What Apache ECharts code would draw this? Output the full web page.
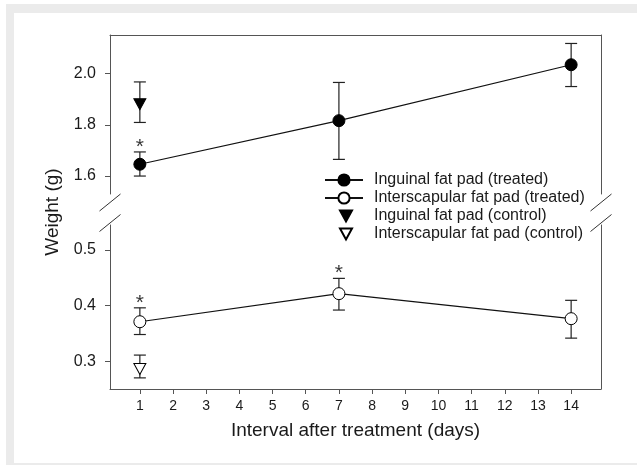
<!DOCTYPE html>
<html>
<head>
<meta charset="utf-8">
<script src="https://cdn.jsdelivr.net/npm/echarts@6/dist/echarts.min.js"></script>
<style>html,body{margin:0;padding:0;background:#fff}#c{width:637px;height:465px}</style>
</head>
<body>
<div id="c"></div>
<script>
// ---- data ----
const days = [1, 7, 14];
const inguinalTreated     = [1.646, 1.816, 2.034];
const inguinalTreatedLow  = [1.600, 1.665, 1.949];
const inguinalTreatedHigh = [1.694, 1.965, 2.117];
const interscapTreated     = [0.371, 0.4215, 0.3765];
const interscapTreatedLow  = [0.348, 0.392, 0.3415];
const interscapTreatedHigh = [0.396, 0.449, 0.4095];
const controlDays = [1];
const inguinalControl     = [1.880];
const inguinalControlLow  = [1.809];
const inguinalControlHigh = [1.967];
const interscapControl     = [0.286];
const interscapControlLow  = [0.270];
const interscapControlHigh = [0.311];
const xTicks = [1, 2, 3, 4, 5, 6, 7, 8, 9, 10, 11, 12, 13, 14];
const yTicksTop = [1.6, 1.8, 2.0];
const yTicksBottom = [0.3, 0.4, 0.5];
const sigInguinalDays = [1];
const sigInterscapDays = [1, 7];
const names = ['Inguinal fat pad (treated)', 'Interscapular fat pad (treated)', 'Inguinal fat pad (control)', 'Interscapular fat pad (control)'];

// ---- layout ----
const FONT = "'Liberation Sans', Arial, sans-serif";
const TXT = '#1a1a1a';
const AX = '#555';
const G = { left: 110, width: 491, top1: 35, h1: 159, top2: 225, h2: 164 };
const DOWN_TRI = 'path://M0,0L12,0L6,11Z';

const pair = (xs, ys) => xs.map((x, i) => [x, ys[i]]);
const triple = (xs, lo, hi) => xs.map((x, i) => [x, lo[i], hi[i]]);
const starsFrom = (sig, hi) => sig.map(d => [d, hi[days.indexOf(d)]]);

function errRender(params, api) {
  const x = api.value(0), lo = api.value(1), hi = api.value(2);
  const a = api.coord([x, lo]), b = api.coord([x, hi]);
  const hw = 6;
  const style = { stroke: '#222', lineWidth: 1.2 };
  return { type: 'group', children: [
    { type: 'line', shape: { x1: a[0], y1: a[1], x2: b[0], y2: b[1] }, style },
    { type: 'line', shape: { x1: a[0] - hw, y1: a[1], x2: a[0] + hw, y2: a[1] }, style },
    { type: 'line', shape: { x1: b[0] - hw, y1: b[1], x2: b[0] + hw, y2: b[1] }, style }
  ]};
}

const xBase = { type: 'value', min: 0.1, max: 14.9, splitLine: { show: false },
  axisLine: { show: true, lineStyle: { color: AX, width: 1 } } };
const yBase = { type: 'value', splitLine: { show: false },
  axisLine: { show: true, lineStyle: { color: AX, width: 1 } } };

function slash(cx, cy) {
  return { type: 'line', silent: true, z: 100,
    shape: { x1: cx - 10.5, y1: cy + 8.5, x2: cx + 10.5, y2: cy - 8.5 },
    style: { stroke: '#333', lineWidth: 1 } };
}

const chart = echarts.init(document.getElementById('c'), null, { renderer: 'canvas' });
const starLabel = { show: true, formatter: '*', position: 'inside', offset: [0, -5],
  fontSize: 21, color: '#000', fontFamily: FONT };

chart.setOption({
  animation: false,
  backgroundColor: '#fff',
  textStyle: { fontFamily: FONT, color: TXT },
  graphic: [
    { type: 'rect', z: -10, silent: true, shape: { x: 6, y: 4, width: 631, height: 461 }, style: { fill: '#ebebeb' } },
    { type: 'rect', z: -9, silent: true, shape: { x: 14, y: 13, width: 623, height: 450 }, style: { fill: '#fff' } },
    slash(G.left, 202.5), slash(G.left, 223),
    slash(G.left + G.width, 202.5), slash(G.left + G.width, 223),
    { type: 'text', silent: true, x: 53, y: 212, rotation: Math.PI / 2,
      style: { text: 'Weight (g)', fontSize: 19, fontFamily: FONT, fill: TXT, align: 'center', verticalAlign: 'middle' } }
  ],
  grid: [
    { left: G.left, width: G.width, top: G.top1, height: G.h1 },
    { left: G.left, width: G.width, top: G.top2, height: G.h2 }
  ],
  xAxis: [
    Object.assign({}, xBase, { gridIndex: 0, position: 'top', axisTick: { show: false }, axisLabel: { show: false } }),
    Object.assign({}, xBase, { gridIndex: 1, position: 'bottom',
      axisTick: { show: true, inside: false, length: 5, customValues: xTicks, lineStyle: { color: AX } },
      axisLabel: { show: true, customValues: xTicks, margin: 10, fontSize: 14, color: TXT, fontFamily: FONT },
      name: 'Interval after treatment (days)', nameLocation: 'middle', nameGap: 32,
      nameTextStyle: { fontSize: 19, color: TXT, fontFamily: FONT } })
  ],
  yAxis: [
    Object.assign({}, yBase, { gridIndex: 0, min: 1.53, max: 2.15,
      axisTick: { show: true, length: 5, customValues: yTicksTop, lineStyle: { color: AX } },
      axisLabel: { show: true, customValues: yTicksTop, margin: 14, fontSize: 16, color: TXT, fontFamily: FONT,
        formatter: v => v.toFixed(1) } }),
    Object.assign({}, yBase, { gridIndex: 1, min: 0.25, max: 0.545,
      axisTick: { show: true, length: 5, customValues: yTicksBottom, lineStyle: { color: AX } },
      axisLabel: { show: true, customValues: yTicksBottom, margin: 14, fontSize: 16, color: TXT, fontFamily: FONT,
        formatter: v => v.toFixed(1) } }),
    Object.assign({}, yBase, { gridIndex: 0, min: 1.53, max: 2.15, position: 'right', axisTick: { show: false }, axisLabel: { show: false } }),
    Object.assign({}, yBase, { gridIndex: 1, min: 0.25, max: 0.545, position: 'right', axisTick: { show: false }, axisLabel: { show: false } })
  ],
  legend: [
    { data: names.slice(0, 2), orient: 'vertical', left: 324, top: 172, padding: 0,
      itemWidth: 38, itemHeight: 14, itemGap: 2, selectedMode: false,
      textStyle: { fontSize: 16, lineHeight: 16, color: TXT, fontFamily: FONT, padding: [0, 0, 0, 6] } },
    { data: names.slice(2, 4).map(n => ({ name: n, icon: DOWN_TRI })), orient: 'vertical', left: 339, top: 208, padding: 0,
      itemWidth: 12, itemHeight: 11, itemGap: 2, selectedMode: false, symbolKeepAspect: false, symbolRotate: 0,
      textStyle: { fontSize: 16, lineHeight: 16, color: TXT, fontFamily: FONT, padding: [0, 0, 0, 17] } }
  ],
  series: [
    { type: 'custom', xAxisIndex: 0, yAxisIndex: 0, z: 1, silent: true, renderItem: errRender,
      encode: { x: 0, y: [1, 2] },
      data: triple(days, inguinalTreatedLow, inguinalTreatedHigh).concat(triple(controlDays, inguinalControlLow, inguinalControlHigh)) },
    { type: 'custom', xAxisIndex: 1, yAxisIndex: 1, z: 1, silent: true, renderItem: errRender,
      encode: { x: 0, y: [1, 2] },
      data: triple(days, interscapTreatedLow, interscapTreatedHigh).concat(triple(controlDays, interscapControlLow, interscapControlHigh)) },
    { name: names[0], type: 'line', xAxisIndex: 0, yAxisIndex: 0, z: 3,
      data: pair(days, inguinalTreated), symbol: 'circle', symbolSize: 12,
      itemStyle: { color: '#000', borderColor: '#000', borderWidth: 1 },
      lineStyle: { color: '#111', width: 1.2 } },
    { name: names[1], type: 'line', xAxisIndex: 1, yAxisIndex: 1, z: 3,
      data: pair(days, interscapTreated), symbol: 'circle', symbolSize: 12, showAllSymbol: true,
      itemStyle: { color: '#fff', borderColor: '#000', borderWidth: 1 },
      lineStyle: { color: '#111', width: 1.2 } },
    { name: names[2], type: 'scatter', xAxisIndex: 0, yAxisIndex: 0, z: 3,
      data: pair(controlDays, inguinalControl), symbol: DOWN_TRI, symbolSize: [12, 11],
      itemStyle: { color: '#000', borderColor: '#000', borderWidth: 1, opacity: 1 } },
    { name: names[3], type: 'scatter', xAxisIndex: 1, yAxisIndex: 1, z: 3,
      data: pair(controlDays, interscapControl), symbol: DOWN_TRI, symbolSize: [12, 11],
      itemStyle: { color: '#fff', borderColor: '#000', borderWidth: 1, opacity: 1 } },
    { type: 'scatter', xAxisIndex: 0, yAxisIndex: 0, z: 4, silent: true, symbolSize: 1,
      itemStyle: { color: 'rgba(0,0,0,0)' }, data: starsFrom(sigInguinalDays, inguinalTreatedHigh), label: starLabel },
    { type: 'scatter', xAxisIndex: 1, yAxisIndex: 1, z: 4, silent: true, symbolSize: 1,
      itemStyle: { color: 'rgba(0,0,0,0)' }, data: starsFrom(sigInterscapDays, interscapTreatedHigh), label: starLabel }
  ]
});
</script>
</body>
</html>
